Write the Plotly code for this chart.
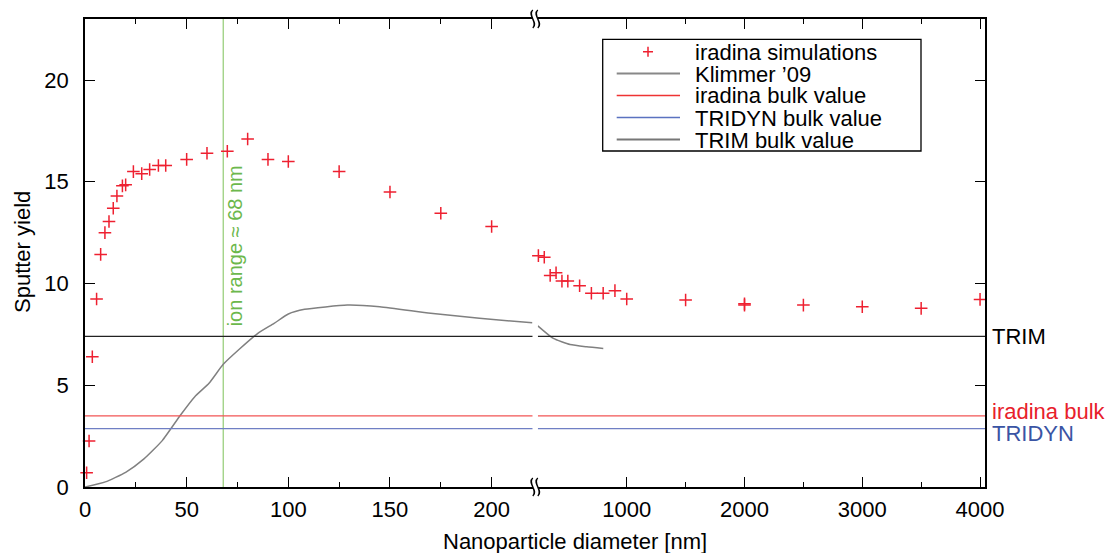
import plotly.graph_objects as go

# ---------------- data ----------------
sim_x = [0.8, 2, 3.6, 5.7, 7.7, 9.8, 11.8, 13.9, 15.7, 18.4, 20, 23.8, 27.9, 31.8, 36.1, 39.7,
         50, 60, 70, 80, 90, 100, 125, 150, 175, 200,
         250, 300, 350, 400, 450, 500, 600, 700, 800, 900, 1000, 1500, 2000, 2000, 2500, 3000, 3500, 4000]
sim_y = [0.7, 2.26, 6.4, 9.24, 11.43, 12.5, 13.05, 13.7, 14.3, 14.8, 14.85, 15.5, 15.4, 15.6, 15.8, 15.8,
         16.1, 16.4, 16.5, 17.1, 16.1, 16.0, 15.5, 14.5, 13.45, 12.8,
         11.37, 11.29, 10.4, 10.53, 10.12, 10.12, 9.89, 9.52, 9.52, 9.65, 9.24, 9.19, 8.94, 9.0, 8.94, 8.86, 8.78, 9.22]

klimmer_x = [0, 10, 20, 29, 38, 47, 54, 61, 68, 76, 85, 93, 100, 108, 129, 145, 170, 194, 220,
             245, 377, 519, 660, 801]
klimmer_y = [0.0, 0.25, 0.72, 1.38, 2.28, 3.54, 4.44, 5.1, 6.03, 6.78, 7.55, 8.04, 8.5, 8.73, 8.94, 8.86, 8.54, 8.29, 8.07,
             7.92, 7.3, 7.0, 6.89, 6.81]

bulk_names = ["iradina bulk value", "TRIDYN bulk value", "TRIM bulk value"]
bulk_labels = ["iradina bulk", "TRIDYN", "TRIM"]
bulk_values = [3.5, 2.87, 7.4]
bulk_line_colors = ["#f25555", "#6f7fc4", "#222222"]
bulk_text_colors = ["#e8202a", "#3a54a4", "#000000"]
bulk_label_shift = [4, -5, 0]

ion_range = 68

left_range = [0, 220.2]
right_range = [245, 4042]
y_range = [0, 23]
left_ticks = [0, 50, 100, 150, 200]
right_ticks = [1000, 2000, 3000, 4000]
right_minor = [1500, 2500, 3500]
y_ticks = [0, 5, 10, 15, 20]

legend_names = ["iradina simulations", "Klimmer \u201909", "iradina bulk value", "TRIDYN bulk value", "TRIM bulk value"]
legend_colors = ["#ee2030", "#888888", "#ee3333", "#5a72c0", "#777777"]
legend_widths = [1.5, 1.8, 1.3, 1.3, 2.2]

FONT = "Liberation Sans, Arial, sans-serif"
FS = 22
split = 222

# plot-area geometry (pixels) used only for placing decorations
PL, PR, PT, PB = 85, 985, 19, 487
def xp(px):
    return (px - PL) / (PR - PL)
def yp(py):
    return (PB - py) / (PB - PT)

fig = go.Figure()

def part(xs, ys, left):
    px, py = [], []
    for a, b in zip(xs, ys):
        if (a <= split) == left:
            px.append(a); py.append(b)
    return px, py

# simulations
for left in (True, False):
    px, py = part(sim_x, sim_y, left)
    fig.add_trace(go.Scatter(x=px, y=py, mode="markers", name="iradina simulations", showlegend=False,
                             xaxis="x" if left else "x2", yaxis="y", cliponaxis=False,
                             marker=dict(symbol="cross-thin", size=9, color="#ee2030",
                                         line=dict(color="#ee2030", width=1.5))))
# Klimmer
for left in (True, False):
    px, py = part(klimmer_x, klimmer_y, left)
    fig.add_trace(go.Scatter(x=px, y=py, mode="lines", name="Klimmer '09", showlegend=False,
                             xaxis="x" if left else "x2", yaxis="y",
                             line=dict(color="#808080", width=1.5, shape="spline", smoothing=0.5)))
# bulk lines
for name, val, col in zip(bulk_names, bulk_values, bulk_line_colors):
    for left in (True, False):
        rng = left_range if left else right_range
        fig.add_trace(go.Scatter(x=rng, y=[val, val], mode="lines", name=name, showlegend=False,
                                 xaxis="x" if left else "x2", yaxis="y",
                                 line=dict(color=col, width=1.2)))

# invisible trace to activate right-hand y axis
fig.add_trace(go.Scatter(x=[right_range[1]], y=[y_range[0]], mode="markers", xaxis="x2", yaxis="y2",
                         marker=dict(opacity=0), showlegend=False, hoverinfo="skip"))

# ion range line
fig.add_shape(type="line", xref="x", yref="y", x0=ion_range, x1=ion_range, y0=y_range[0], y1=y_range[1],
              line=dict(color="#9bd07e", width=1.3), layer="below")
fig.add_annotation(x=ion_range, y=11.84, xref="x", yref="y", text="ion range \u2248 68 nm",
                   textangle=-90, showarrow=False, xshift=12,
                   font=dict(family=FONT, size=20, color="#6cb84c"))

# right-hand labels
for lab, val, col, sh in zip(bulk_labels, bulk_values, bulk_text_colors, bulk_label_shift):
    fig.add_annotation(x=1, xref="paper", y=val, yref="y", text=lab, showarrow=False,
                       xanchor="left", yanchor="middle", xshift=5, yshift=sh,
                       font=dict(family=FONT, size=FS, color=col))

# axis titles
fig.add_annotation(x=xp(575), y=yp(541), xref="paper", yref="paper", text="Nanoparticle diameter [nm]",
                   showarrow=False, xanchor="center", yanchor="middle",
                   font=dict(family=FONT, size=FS, color="black"))
fig.add_annotation(x=xp(22), y=yp(252), xref="paper", yref="paper", text="Sputter yield", textangle=-90,
                   showarrow=False, xanchor="center", yanchor="middle",
                   font=dict(family=FONT, size=FS, color="black"))

# break marks
brk = xp(535.3)
path = ("M -2.5,-9 C 3.5,-4 -8.5,4 -2.5,9 "
        "M 2.5,-9 C 8.5,-4 -3.5,4 2.5,9")
for ya in (0, 1):
    fig.add_shape(type="path", xref="paper", yref="paper", xsizemode="pixel", ysizemode="pixel",
                  xanchor=brk, yanchor=ya, path=path, line=dict(color="black", width=1.5))

# custom legend box
fig.add_shape(type="rect", xref="paper", yref="paper", x0=xp(602.7), x1=xp(921), y0=yp(151), y1=yp(39.3),
              line=dict(color="black", width=1.3), fillcolor="white", layer="above")
row_y = [51.7, 73.5, 95.5, 117.5, 139.5]
for i, (nm, col, w) in enumerate(zip(legend_names, legend_colors, legend_widths)):
    ry = yp(row_y[i])
    if i == 0:
        fig.add_shape(type="path", xref="paper", yref="paper", xsizemode="pixel", ysizemode="pixel",
                      xanchor=xp(648), yanchor=ry, path="M -5,0 H 5 M 0,-5 V 5",
                      line=dict(color=col, width=w), layer="above")
    else:
        fig.add_shape(type="line", xref="paper", yref="paper", x0=xp(616.7), x1=xp(680), y0=ry, y1=ry,
                      line=dict(color=col, width=w), layer="above")
    fig.add_annotation(x=xp(694), y=ry, xref="paper", yref="paper", text=nm, showarrow=False,
                       xanchor="left", yanchor="middle", height=20, borderpad=0,
                       font=dict(family=FONT, size=FS, color="black"))

axis_common = dict(showline=True, linecolor="black", linewidth=1.5, ticks="inside", ticklen=10,
                   tickcolor="black", tickwidth=1.3, showgrid=False, zeroline=False,
                   tickfont=dict(family=FONT, size=FS, color="black"))

fig.update_layout(
    width=1107, height=553,
    margin=dict(l=PL, r=1107 - PR, t=PT, b=553 - PB),
    plot_bgcolor="white", paper_bgcolor="white",
    showlegend=False,
    xaxis=dict(domain=[0, xp(532.7)], range=left_range, tickvals=left_ticks, mirror="ticks",
               minor=dict(ticks="inside", ticklen=5, tickcolor="black", dtick=25, tick0=0, showgrid=False),
               ticklabelstandoff=2, **axis_common),
    xaxis2=dict(domain=[xp(537.8), 1], range=right_range, tickvals=right_ticks, anchor="y", mirror="ticks",
                minor=dict(ticks="inside", ticklen=5, tickcolor="black", tickvals=right_minor, showgrid=False),
                ticklabelstandoff=2, **axis_common),
    yaxis=dict(range=y_range, tickvals=y_ticks, anchor="x", ticklabelstandoff=10, **axis_common),
    yaxis2=dict(range=y_range, tickvals=y_ticks, anchor="x2", overlaying="y", side="right",
                showticklabels=False, **axis_common),
    font=dict(family=FONT, size=FS, color="black"),
)

fig.write_html("out.html")
